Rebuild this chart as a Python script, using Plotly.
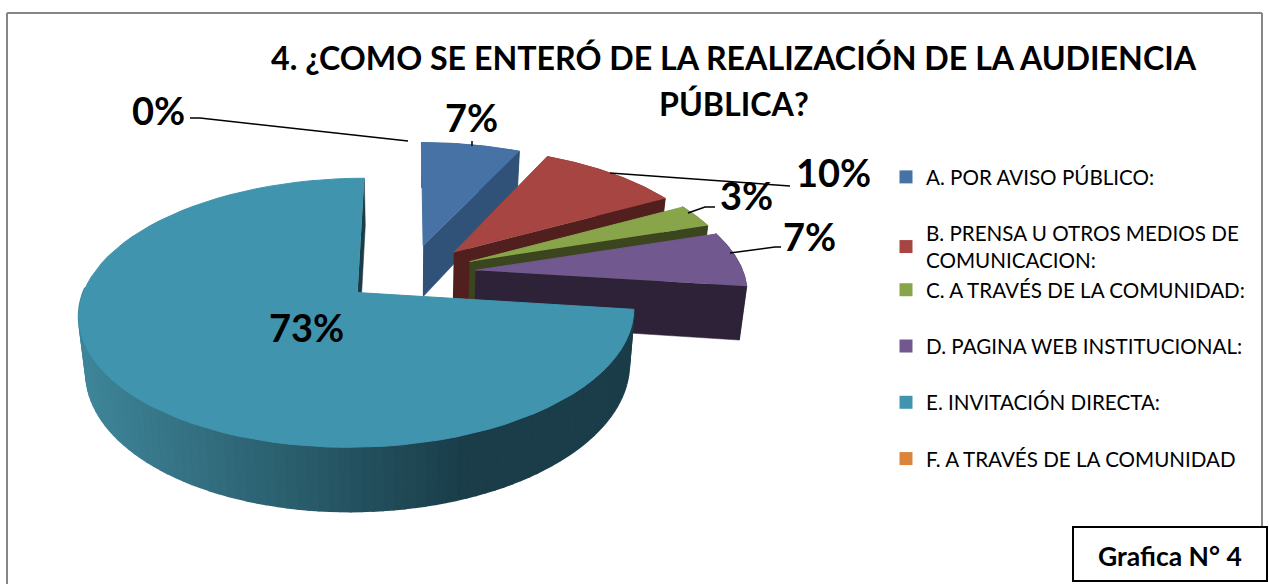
import numpy as np
import plotly.graph_objects as go

categories = ["A. POR AVISO PÚBLICO:", "B. PRENSA U OTROS MEDIOS DE<br>COMUNICACION:",
              "C. A TRAVÉS DE LA COMUNIDAD:", "D. PAGINA WEB INSTITUCIONAL:",
              "E. INVITACIÓN DIRECTA:", "F. A TRAVÉS DE LA COMUNIDAD"]
values = [7, 10, 3, 7, 73, 0]
top_colors = ["#4672A6", "#A64542", "#88A54A", "#71588F", "#4094AE", "#DB843D"]
side_colors = ["#305278", "#51201E", "#3B461F", "#2D2238", "#1A3D49", "#8A5020"]
legend_groups = ["a", "bc", "bc", "d", "e", "f"]
title_lines = ["4. ¿COMO SE ENTERÓ DE LA REALIZACIÓN DE LA AUDIENCIA", "PÚBLICA?"]
note_text = "Grafica N° 4"

W, H = 1269, 584
X0, Y0, RX, RY, K = 409.0, 273.0, 268.0, 125.7, 0.147
EXPLODE_X, EXPLODE_Y, DEPTH, SHRINK = 0.25, 0.23, 53.0, 0.978
FONT = "Lato"


def project(X, Y):
    den = 1 + K * Y
    return X0 + RX * X / den, Y0 - RY * Y / den


def lower(x, y, Y):
    return X0 + (x - X0) * SHRINK, y + DEPTH / (1 + K * Y)


def arc(start, end, shift, n=80):
    t = np.radians(np.linspace(start, end, n))
    X = shift[0] + np.sin(t)
    Y = shift[1] + np.cos(t)
    return X, Y


def add_poly(fig, xs, ys, color, width=0.5):
    fig.add_trace(go.Scatter(x=list(xs), y=list(ys), mode="lines", fill="toself", fillcolor=color,
                             line=dict(color=color, width=width), hoverinfo="skip", showlegend=False))


def extruded(X, Y):
    x, y = project(X, Y)
    xb, yb = lower(x, y, Y)
    return x, y, xb, yb


def lerp_color(a, b, f):
    c = [int(round(a[i] + (b[i] - a[i]) * f)) for i in range(3)]
    return f"rgb({c[0]},{c[1]},{c[2]})"


fig = go.Figure()
cum = 0.0
total = float(sum(values))
for i, v in enumerate(values):
    start = cum / total * 360
    end = (cum + v) / total * 360
    cum += v
    if v == 0:
        continue
    mid = np.radians((start + end) / 2)
    shift = (EXPLODE_X * np.sin(mid), EXPLODE_Y * np.cos(mid))
    apex = extruded(np.array([shift[0]]), np.array([shift[1]]))
    X, Y = arc(start, end, shift)
    x, y, xb, yb = extruded(X, Y)

    add_poly(fig, [apex[0][0], x[-1], xb[-1], apex[2][0]], [apex[1][0], y[-1], yb[-1], apex[3][0]], side_colors[i])
    if i == 4:
        # outer wall with horizontal shading, overlapping bands to hide the seams
        Xw, Yw = arc(start, 272, shift, 90)
        xw, yw, xbw, ybw = extruded(Xw, Yw)
        light, dark = (62, 133, 153), (26, 61, 73)
        for j in range(len(xw) - 1):
            f = float(np.clip((xw[j] - 85) / (470 - 85), 0, 1))
            col = lerp_color(light, dark, f)
            add_poly(fig, [xw[j], xw[j + 1], xbw[j + 1], xbw[j]], [yw[j], yw[j + 1], ybw[j + 1], ybw[j]], col, 2.5)
    else:
        add_poly(fig, list(x) + list(xb[::-1]), list(y) + list(yb[::-1]), side_colors[i])
    # top face
    add_poly(fig, [apex[0][0]] + list(x), [apex[1][0]] + list(y), top_colors[i], 1)

# legend entries
for i, name in enumerate(categories):
    fig.add_trace(go.Scatter(x=[None], y=[None], mode="markers", name=name, legendgroup=legend_groups[i],
                             marker=dict(symbol="square", size=13, color=top_colors[i]),
                             hoverinfo="skip", showlegend=True))

# leader lines
leaders = [
    ([190, 200, 408], [118, 118, 141]),
    ([472, 472], [141, 146]),
    ([610, 720, 790], [173, 181, 186]),
    ([688, 705, 715], [213, 207, 207]),
    ([730, 775, 781], [253, 247, 247]),
]
for lx, ly in leaders:
    fig.add_trace(go.Scatter(x=lx, y=ly, mode="lines", line=dict(color="black", width=1.5),
                             hoverinfo="skip", showlegend=False))

# data labels: value index and where each is written
label_pos = [(471, 117, 0), (833, 172, 1), (746, 195, 2), (809, 236, 3), (306, 327, 4), (158, 110, 5)]
annotations = []
for lx, ly, idx in label_pos:
    annotations.append(dict(x=lx, y=ly, xref="x", yref="y", text=f"<b>{values[idx]}%</b>", showarrow=False,
                            font=dict(family=FONT, size=38, color="black"), xanchor="center", yanchor="middle"))
for line, ty in zip(title_lines, [57, 103]):
    annotations.append(dict(x=734, y=ty, xref="x", yref="y", text=f"<b>{line}</b>", showarrow=False,
                            font=dict(family=FONT, size=32.2, color="black"), xanchor="center", yanchor="middle"))
annotations.append(dict(x=1170, y=556, xref="x", yref="y", text=f"<b>{note_text}</b>", showarrow=False,
                        font=dict(family=FONT, size=26.5, color="black"), xanchor="center", yanchor="middle"))

border = dict(color="#868686", width=2)
shapes = [
    dict(type="line", x0=7, x1=1262, y0=13, y1=13, xref="x", yref="y", line=border),
    dict(type="line", x0=7, x1=7, y0=13, y1=584, xref="x", yref="y", line=border),
    dict(type="line", x0=1262, x1=1262, y0=13, y1=526, xref="x", yref="y", line=border),
    dict(type="rect", x0=1073, x1=1267, y0=527, y1=581, xref="x", yref="y", fillcolor="white",
         line=dict(color="black", width=2), layer="below"),
]

fig.update_layout(
    width=W, height=H, margin=dict(l=0, r=0, t=0, b=0), paper_bgcolor="white", plot_bgcolor="white",
    autosize=False,
    xaxis=dict(range=[0, W], visible=False, fixedrange=True),
    yaxis=dict(range=[H, 0], visible=False, fixedrange=True),
    annotations=annotations, shapes=shapes,
    legend=dict(x=886 / W, y=1 - 157 / H, xanchor="left", yanchor="top", tracegroupgap=26.5,
                font=dict(family=FONT, size=20.6, color="black"), bgcolor="rgba(0,0,0,0)",
                traceorder="grouped", itemclick=False, itemdoubleclick=False),
)

fig.write_html("out.html", config=dict(displayModeBar=False),
               post_script="document.body.style.margin='0';")
